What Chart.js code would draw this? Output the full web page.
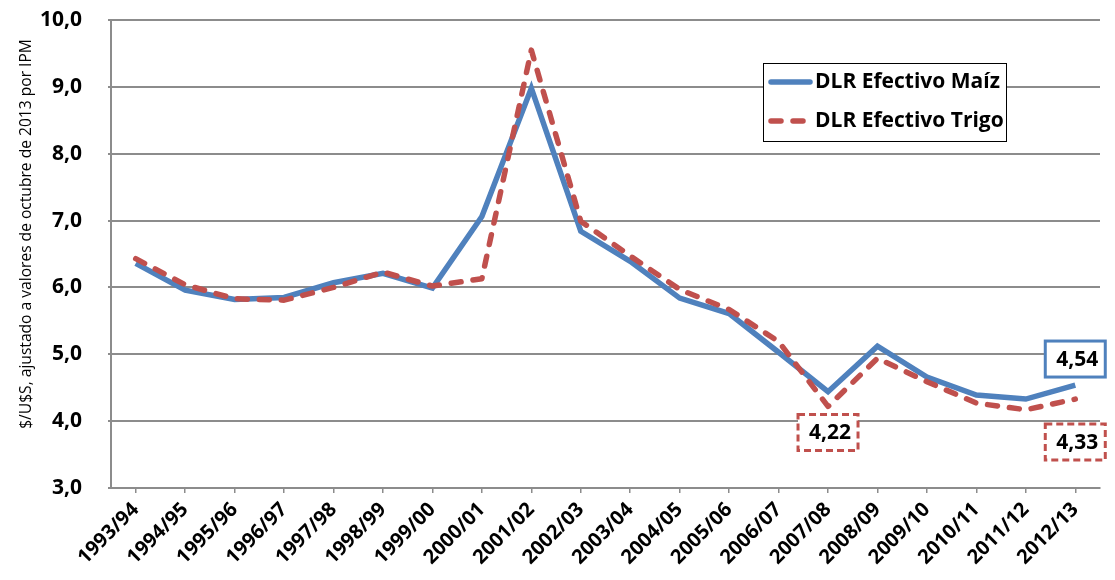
<!DOCTYPE html>
<html>
<head>
<meta charset="utf-8">
<script src="https://cdn.jsdelivr.net/npm/chart.js@4.4.1/dist/chart.umd.min.js"></script>
<style>
  body { margin: 0; background: #fff; }
  canvas { display: block; }
</style>
</head>
<body>
<canvas id="grafico" width="1115" height="580"></canvas>
<script>
const campanias = ['1993/94', '1994/95', '1995/96', '1996/97', '1997/98', '1998/99', '1999/00', '2000/01', '2001/02', '2002/03',
    '2003/04', '2004/05', '2005/06', '2006/07', '2007/08', '2008/09', '2009/10', '2010/11', '2011/12', '2012/13'];
const dlrMaiz = [6.36, 5.96, 5.82, 5.85, 6.07, 6.21, 5.99, 7.06, 8.98, 6.84, 6.39, 5.84, 5.61, 5.03, 4.44, 5.12, 4.66, 4.39, 4.33, 4.54];
const dlrTrigo = [6.43, 6.04, 5.83, 5.81, 6.00, 6.23, 6.02, 6.13, 9.55, 6.99, 6.47, 5.97, 5.67, 5.19, 4.22, 4.94, 4.59, 4.27, 4.17, 4.33];
const nombresSeries = ['DLR Efectivo Maíz', 'DLR Efectivo Trigo'];
const tituloEjeY = '$/U$S, ajustado a valores de octubre de 2013 por IPM';

const AZUL = '#4F81BD';
const ROJO = '#C0504D';
const GRIS = '#8C8C8C';
const FUENTE = '"Open Sans", "DejaVu Sans", sans-serif';

// etiquetas con recuadro: serie, indice del punto y desplazamiento vertical del recuadro
const recuadros = [
    { serie: 0, indice: 19, dy: -26, guion: [] },
    { serie: 1, indice: 14, dy: 26, guion: [7, 4] },
    { serie: 1, indice: 19, dy: 43, guion: [7, 4] }
];

const formatoComa = (v, dec) => v.toFixed(dec).replace('.', ',');

// quita el relleno automatico que Chart.js agrega por las etiquetas
function sinRelleno(escala) {
    escala.paddingTop = 0;
    escala.paddingBottom = 0;
    escala.paddingLeft = 0;
    escala.paddingRight = 0;
}

// leyenda, titulo del eje y recuadros dibujados sobre el canvas
const extras = {
    id: 'extras',
    afterDraw(chart) {
        const ctx = chart.ctx;
        const escX = chart.scales.x;
        const escY = chart.scales.y;

        ctx.save();
        ctx.translate(27, 234);
        ctx.rotate(-Math.PI / 2);
        ctx.font = '15.6px ' + FUENTE;
        ctx.fillStyle = '#000';
        ctx.textAlign = 'center';
        ctx.textBaseline = 'middle';
        ctx.fillText(tituloEjeY, 0, 0);
        ctx.restore();

        // leyenda
        ctx.save();
        ctx.fillStyle = '#fff';
        ctx.fillRect(763, 63, 243, 78);
        ctx.strokeStyle = '#000';
        ctx.lineWidth = 1;
        ctx.strokeRect(763.5, 63.5, 243, 78);
        chart.data.datasets.forEach((ds, i) => {
            const yy = 82 + i * 39;
            ctx.beginPath();
            ctx.strokeStyle = ds.borderColor;
            ctx.lineWidth = ds.borderWidth;
            ctx.lineCap = 'round';
            ctx.setLineDash(ds.borderDash || []);
            ctx.moveTo(771, yy);
            ctx.lineTo(810, yy);
            ctx.stroke();
            ctx.setLineDash([]);
            ctx.fillStyle = '#000';
            ctx.font = 'bold 21px ' + FUENTE;
            ctx.textAlign = 'left';
            ctx.textBaseline = 'middle';
            ctx.fillText(ds.label, 815, yy);
        });
        ctx.restore();

        // recuadros con valores
        ctx.save();
        recuadros.forEach(r => {
            const ds = chart.data.datasets[r.serie];
            const valor = ds.data[r.indice];
            const px = escX.getPixelForValue(r.indice);
            const py = escY.getPixelForValue(valor) + r.dy;
            ctx.fillStyle = '#fff';
            ctx.fillRect(px - 30, py - 18, 60, 36);
            ctx.strokeStyle = ds.borderColor;
            ctx.lineWidth = 3;
            ctx.setLineDash(r.guion);
            ctx.strokeRect(px - 30, py - 18, 60, 36);
            ctx.setLineDash([]);
            ctx.fillStyle = '#000';
            ctx.font = 'bold 21px ' + FUENTE;
            ctx.textAlign = 'center';
            ctx.textBaseline = 'middle';
            ctx.fillText(formatoComa(valor, 2), px + 2, py + 1);
        });
        ctx.restore();
    }
};

new Chart(document.getElementById('grafico').getContext('2d'), {
    type: 'line',
    data: {
        labels: campanias,
        datasets: [{
            label: nombresSeries[0],
            data: dlrMaiz,
            borderColor: AZUL,
            borderWidth: 5.5,
            borderJoinStyle: 'miter',
            pointRadius: 0,
            tension: 0,
            order: 1
        }, {
            label: nombresSeries[1],
            data: dlrTrigo,
            borderColor: ROJO,
            borderWidth: 5.5,
            borderDash: [10, 12],
            borderCapStyle: 'round',
            borderJoinStyle: 'round',
            pointRadius: 0,
            tension: 0,
            order: 0
        }]
    },
    options: {
        responsive: false,
        animation: false,
        devicePixelRatio: 1,
        layout: { padding: { top: 20, right: 15, left: 0, bottom: 0 } },
        plugins: {
            legend: { display: false },
            tooltip: { enabled: false }
        },
        scales: {
            x: {
                offset: true,
                grid: { display: true, drawOnChartArea: false, offset: false, color: GRIS, lineWidth: 1.5, tickLength: 5 },
                border: { color: GRIS, width: 2 },
                ticks: {
                    autoSkip: false,
                    maxRotation: 45,
                    minRotation: 45,
                    padding: 5,
                    color: '#000',
                    font: { family: FUENTE, size: 20, weight: 'bold' }
                },
                afterFit(escala) { escala.height = 92; sinRelleno(escala); }
            },
            y: {
                min: 3,
                max: 10,
                ticks: {
                    stepSize: 1,
                    padding: 26,
                    color: '#000',
                    font: { family: FUENTE, size: 21, weight: 'bold' },
                    callback: v => formatoComa(v, 1)
                },
                grid: { color: GRIS, lineWidth: 2, tickLength: 3 },
                border: { color: GRIS, width: 2 },
                afterFit(escala) { escala.width = 111; sinRelleno(escala); }
            }
        }
    },
    plugins: [extras]
});
</script>
</body>
</html>
